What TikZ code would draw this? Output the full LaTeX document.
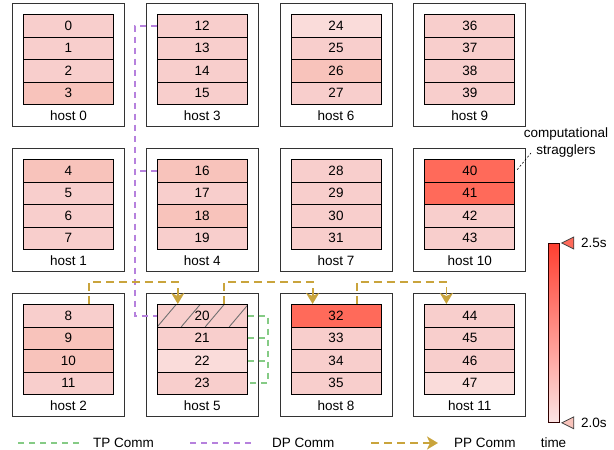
\documentclass[tikz,border=0pt]{standalone}
\usepackage{fontspec}
\setmainfont{Liberation Sans}
\usetikzlibrary{arrows.meta,calc}

\definecolor{colBase}{HTML}{F8CECC}
\definecolor{colDark}{HTML}{F8C3BB}
\definecolor{colLight}{HTML}{FADCDA}
\definecolor{colHot}{HTML}{FF6A5A}
\definecolor{tpGreen}{HTML}{85CB85}
\definecolor{dpPurple}{HTML}{B681DD}
\definecolor{ppGold}{HTML}{C9A43C}
\definecolor{barTop}{HTML}{FF3F30}
\definecolor{barBottom}{HTML}{FDE4E4}
\definecolor{hatchGray}{HTML}{707070}

\begin{document}
\begin{tikzpicture}[x=1pt,y=-1pt,
  font=\fontsize{13.5}{17}\selectfont,
  hostbox/.style={draw=black!80, line width=0.8pt, fill=white,
    minimum width=112pt, minimum height=123pt, anchor=north west, inner sep=0pt},
  hostlabel/.style={inner sep=0pt},
  cell/.style={draw=black, line width=0.8pt, minimum width=90pt,
    minimum height=22.5pt, anchor=north west, inner sep=0pt},
  cbase/.style={fill=colBase},
  cdark/.style={fill=colDark},
  clight/.style={fill=colLight},
  chot/.style={fill=colHot},
  chatch/.style={fill=colBase, path picture={
      \foreach \i in {-1,...,4}
        \draw[hatchGray, line width=0.9pt]
          ($(path picture bounding box.south west)+(\i*24,0)$) -- ++(22,-26);}},
  tpline/.style={tpGreen, line width=1.8pt, dash pattern=on 6pt off 5pt},
  dpline/.style={dpPurple, line width=1.8pt, dash pattern=on 6pt off 5pt},
  ppline/.style={ppGold, line width=1.8pt, dash pattern=on 8pt off 5pt},
  pparrow/.style={-{Stealth[length=11pt,width=13pt,inset=3pt]}},
  marker/.style={draw=black!75, line width=0.8pt}]

\useasboundingbox (0,0) rectangle (614,450);

% hosts: four columns of three
\foreach \h in {0,...,11}{
  \pgfmathsetmacro\hx{12+133.8*floor(\h/3)}
  \pgfmathsetmacro\hy{3+145*mod(\h,3)}
  \node[hostbox] (h\h) at (\hx,\hy) {};
  \node[hostlabel] (hl\h) at ($(h\h.south)+(0,-11)$) {host \h};
}

% four GPUs per host, shaded by step time
\foreach \c/\st in {0/cbase,1/cbase,2/cbase,3/cdark,
                    4/cdark,5/cbase,6/cbase,7/cbase,
                    8/cbase,9/cdark,10/cdark,11/cbase,
                    12/cbase,13/cbase,14/cbase,15/cbase,
                    16/cdark,17/cbase,18/cdark,19/cbase,
                    20/chatch,21/cbase,22/clight,23/cbase,
                    24/clight,25/cbase,26/cdark,27/cbase,
                    28/cbase,29/cbase,30/cbase,31/cbase,
                    32/chot,33/cbase,34/cbase,35/cbase,
                    36/cbase,37/cbase,38/cbase,39/cbase,
                    40/chot,41/chot,42/cbase,43/cbase,
                    44/cbase,45/cbase,46/cbase,47/clight}{
  \pgfmathtruncatemacro\h{floor(\c/4)}
  \pgfmathtruncatemacro\k{mod(\c,4)}
  \node[cell,\st] (c\c) at ($(h\h.north west)+(11,11+22.5*\k)$) {\c};
}

% data-parallel group
\draw[dpline] (c12.west) -- ++(-22,0) coordinate (dpTop)
  |- (c20.west);
\draw[dpline] (c16.west) -- (c16.west -| dpTop);

% tensor-parallel group inside host 5
\draw[tpline] (c20.east) -- ++(20,0) coordinate (tpSide) |- (c23.east);
\draw[tpline] (c21.east) -- (c21.east -| tpSide);
\draw[tpline] (c22.east) -- (c22.east -| tpSide);

% pipeline-parallel chain
\draw[ppline,pparrow] ($(c8.north west)+(66,0)$) -- ++(0,-22) -| ($(c20.north west)+(21,0)$);
\draw[ppline,pparrow] ($(c20.north west)+(67,0)$) -- ++(0,-22) -| ($(c32.north west)+(22,0)$);
\draw[ppline,pparrow] ($(c32.north west)+(66,0)$) -- ++(0,-22) -| ($(c44.north west)+(22,0)$);

% straggler annotation
\node[align=center, inner sep=0pt] (ann) at (566,143) {computational\\stragglers};
\coordinate (annTip) at (531,153);
\draw[black, line width=0.6pt, dash pattern=on 2pt off 2pt]
  ($(c40.east)+(2,-1)$) -- (annTip);

% colour bar
\node[draw=black!70!red!60!black, line width=0.8pt, anchor=north west,
  minimum width=11pt, minimum height=179pt, inner sep=0pt,
  top color=barTop, bottom color=barBottom] (cbar) at (548,243) {};
\draw[marker, fill=colHot] ($(cbar.north east)+(2,0)$) -- ++(12,-6) -- ++(0,12) -- cycle;
\draw[marker, fill=colDark] ($(cbar.south east)+(2,0)$) -- ++(12,-6) -- ++(0,12) -- cycle;
\node[anchor=west, inner sep=0pt] (lbHigh) at ($(cbar.north east)+(21,0)$) {2.5s};
\node[anchor=west, inner sep=0pt] (lbLow) at ($(cbar.south east)+(21,0)$) {2.0s};
\node[inner sep=0pt] (lbTime) at (553.5,443) {time};

% legend
\coordinate (tpA) at (18,443);  \coordinate (tpB) at (79,443);
\coordinate (dpA) at (190,443); \coordinate (dpB) at (251,443);
\coordinate (ppA) at (371,443); \coordinate (ppB) at (438,443);
\draw[tpline] (tpA) -- (tpB);
\node[anchor=west, inner sep=0pt] (lgTP) at (93,443) {TP Comm};
\draw[dpline] (dpA) -- (dpB);
\node[anchor=west, inner sep=0pt] (lgDP) at (272,443) {DP Comm};
\draw[ppline,pparrow] (ppA) -- (ppB);
\node[anchor=west, inner sep=0pt] (lgPP) at (454,443) {PP Comm};

\end{tikzpicture}
\end{document}
